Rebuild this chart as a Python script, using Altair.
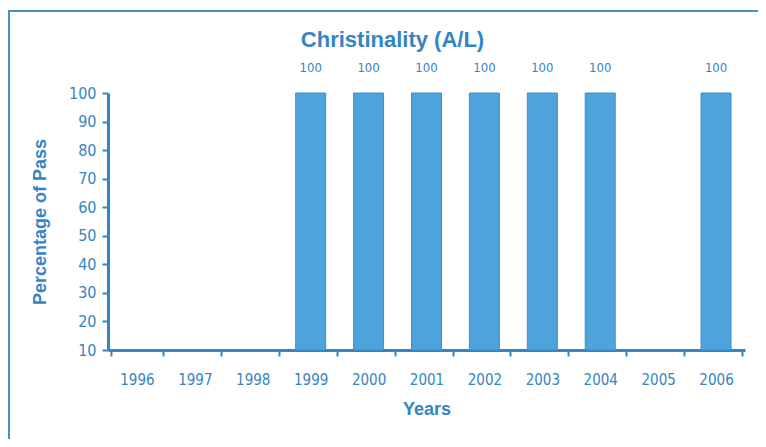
import altair as alt
import pandas as pd

years = ["1996", "1997", "1998", "1999", "2000", "2001", "2002", "2003", "2004", "2005", "2006"]
passes = [None, None, None, 100, 100, 100, 100, 100, 100, None, 100]

df = pd.DataFrame({"Year": years, "Pass": passes})
df["Label"] = df["Pass"].apply(lambda v: "" if pd.isna(v) else str(int(v)))

blue = "#3584c4"
font = "DejaVu Sans Condensed, Liberation Sans Narrow, Liberation Sans, sans-serif"

x = alt.X("Year:N", sort=years, title="Years",
          scale=alt.Scale(domain=years),
          axis=alt.Axis(labelAngle=0, tickBand="extent", labelFont=font, labelFontSize=15,
                        labelColor=blue, labelPadding=16, titleFont="Liberation Sans",
                        titleFontSize=18, titleFontWeight="bold", titleColor=blue,
                        titlePadding=13, domainColor=blue, domainWidth=3, tickColor=blue,
                        tickWidth=2, tickSize=6))
y = alt.Y("Pass:Q", title="Percentage of Pass",
          scale=alt.Scale(domain=[10, 100], zero=False, nice=False),
          axis=alt.Axis(values=list(range(10, 101, 10)), labelFont=font, labelFontSize=16,
                        labelColor=blue, labelPadding=6, titleFont="Liberation Sans",
                        titleFontSize=18, titleFontWeight="bold", titleColor=blue,
                        titlePadding=19, domainColor=blue, domainWidth=3, tickColor=blue,
                        tickWidth=2, tickSize=6, grid=False))

base = alt.Chart(df)
bars = base.mark_bar(size=30, color="#4ea3dc", stroke="#3b8fcc", strokeWidth=1).encode(
    x=x, y=y, y2=alt.datum(10))
labels = base.mark_text(dy=-25, font=font, fontSize=13, color=blue).encode(
    x=x, y=y, text="Label:N")
frame = alt.Chart(pd.DataFrame({"a": [0]})).mark_rect(
    fill=None, stroke="#4a90c8", strokeWidth=2, clip=False).encode(
    x=alt.value(-99), x2=alt.value(700), y=alt.value(-82), y2=alt.value(420))

chart = alt.layer(frame, bars, labels).properties(
    width=637, height=257,
    title=alt.TitleParams("Christinality (A/L)", font="Liberation Sans", fontSize=22,
                          fontWeight="bold", color=blue, anchor="middle", dx=-34, offset=-42),
    padding={"left": 100, "top": 85, "right": 13, "bottom": 89},
    autosize=alt.AutoSizeParams(type="none"),
).configure(background="white").configure_view(stroke=None, strokeWidth=0)

chart.save("out.html", embed_options={"renderer": "svg", "actions": False})
